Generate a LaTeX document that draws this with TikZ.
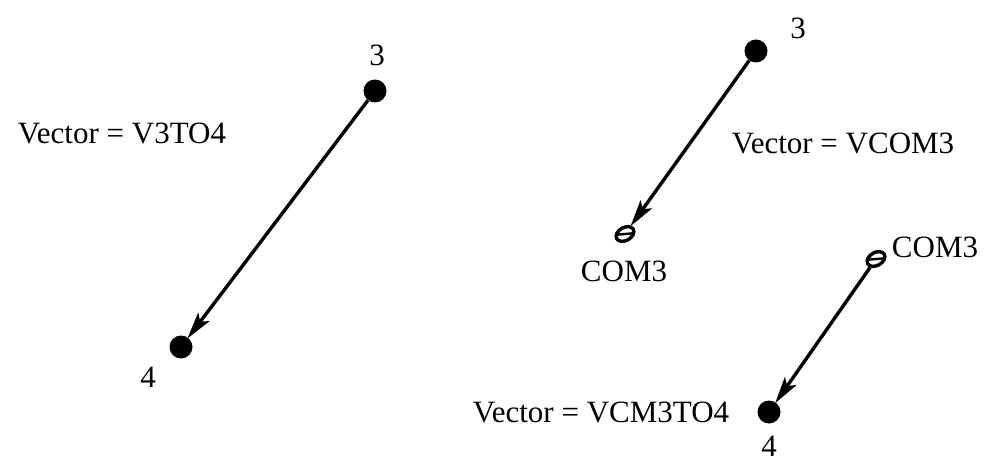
\documentclass[tikz,border=0pt]{standalone}
\usepackage{fontspec}
\setmainfont{Liberation Serif}
\usetikzlibrary{arrows.meta,shapes.geometric}
\begin{document}
\begin{tikzpicture}[x=1pt,y=-1pt,
  lbl/.style={inner sep=0pt,font=\fontsize{31}{31}\selectfont},
  dot/.style={circle,fill=black,draw=none,minimum size=23pt,inner sep=0pt},
  com/.style={ellipse,draw=black,line width=3.4pt,minimum width=19pt,minimum height=13pt,inner sep=0pt,rotate=30,
    path picture={\draw[line width=2.4pt] ([xshift=-2pt]path picture bounding box.west) -- ([xshift=2pt]path picture bounding box.east);}},
  vec/.style={line width=3.4pt,-{Stealth[length=27pt,width=14pt,inset=6pt]},shorten >=-1pt}]
\useasboundingbox (0,0) rectangle (992,462);
% left
\node[dot] (la) at (375,91) {};
\node[dot] (lb) at (181,347) {};
\node[lbl] (la3) at (377,55) {3};
\node[lbl] (lb4) at (148,377) {4};
\node[lbl] (lv) at (122,133) {Vector = V3TO4};
\draw[vec] (la) -- (lb);
% right top
\node[dot] (ra) at (756,51) {};
\node[com] (rc) at (625,234) {};
\node[lbl] (ra3) at (798,28) {3};
\node[lbl] (rc3) at (624,271) {COM3};
\node[lbl] (rv) at (843,143) {Vector = VCOM3};
\draw[vec] (ra) -- (rc);
% right bottom
\node[com] (bc) at (876,259) {};
\node[dot] (bd) at (769,412) {};
\node[lbl] (bc3) at (935,247) {COM3};
\node[lbl] (bd4) at (769,446) {4};
\node[lbl] (bv) at (601,412) {Vector = VCM3TO4};
\draw[vec] (bc) -- (bd);
\end{tikzpicture}
\end{document}
